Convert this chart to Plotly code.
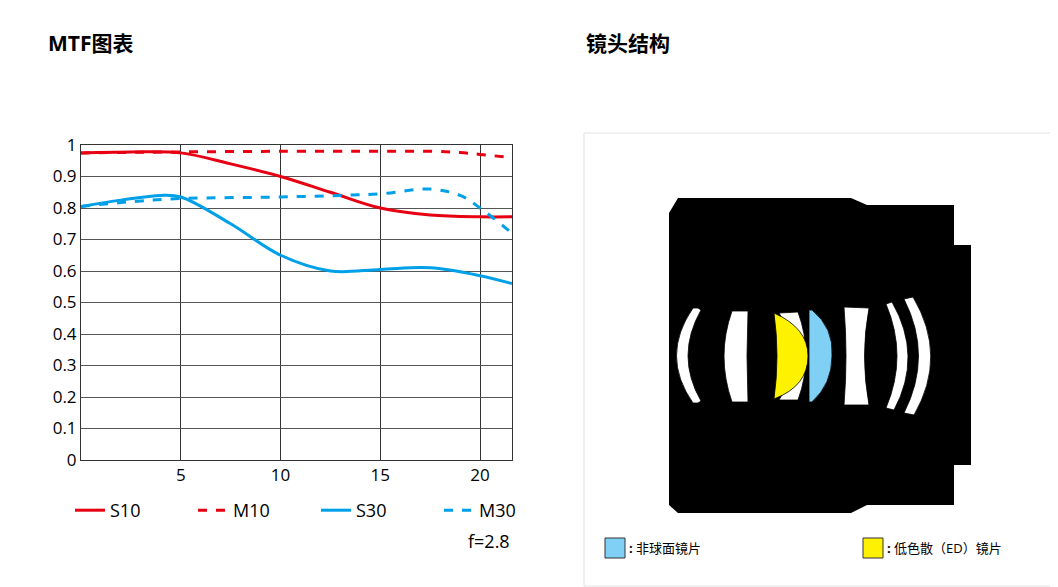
import plotly.graph_objects as go

# MTF data (spatial position mm vs contrast)
x_s10 = [0, 2.5, 5, 7.5, 10, 12.5, 15, 17.5, 20, 21.6]
y_s10 = [0.975, 0.978, 0.975, 0.94, 0.90, 0.85, 0.80, 0.778, 0.772, 0.772]
x_m10 = [0, 5, 10, 15, 17.5, 19, 20, 21.6]
y_m10 = [0.975, 0.978, 0.98, 0.98, 0.98, 0.976, 0.97, 0.96]
x_s30 = [0, 2, 4, 5, 7.5, 10, 12.5, 15, 17.5, 20, 21.6]
y_s30 = [0.805, 0.825, 0.84, 0.835, 0.75, 0.65, 0.60, 0.605, 0.61, 0.585, 0.56]
x_m30 = [0, 2.5, 5, 10, 13, 15, 17.5, 19, 20, 21.6]
y_m30 = [0.805, 0.82, 0.83, 0.835, 0.84, 0.845, 0.86, 0.84, 0.80, 0.72]

RED = "#e60012"
BLUE = "#00a0e9"

fig = go.Figure()
fig.add_trace(go.Scatter(x=x_s10, y=y_s10, name="S10", mode="lines", line=dict(color=RED, width=3, shape="spline")))
fig.add_trace(go.Scatter(x=x_m10, y=y_m10, name="M10", mode="lines", line=dict(color=RED, width=3, dash="dash", shape="spline")))
fig.add_trace(go.Scatter(x=x_s30, y=y_s30, name="S30", mode="lines", line=dict(color=BLUE, width=3, shape="spline")))
fig.add_trace(go.Scatter(x=x_m30, y=y_m30, name="M30", mode="lines", line=dict(color=BLUE, width=3, dash="dash", shape="spline")))

W, H = 1058, 587
X2 = 560  # left edge of the lens-diagram area (px)
fig.update_layout(
    width=W, height=H, margin=dict(l=0, r=0, t=0, b=0, autoexpand=False),
    paper_bgcolor="white", plot_bgcolor="white",
    font=dict(family="Open Sans, Noto Sans CJK SC", size=17, color="black"),
    xaxis=dict(domain=[73/W, 504/W], range=[0, 21.6], tickvals=[5, 10, 15, 20],
               showgrid=True, gridcolor="#333", gridwidth=1, zeroline=False,
               showline=True, linecolor="#333", mirror=True, ticks=""),
    yaxis=dict(domain=[(H-452)/H, (H-137)/H], range=[0, 1],
               tickvals=[0, .1, .2, .3, .4, .5, .6, .7, .8, .9, 1],
               ticktext=["0", "0.1", "0.2", "0.3", "0.4", "0.5", "0.6", "0.7", "0.8", "0.9", "1"],
               showgrid=True, gridcolor="#555", gridwidth=1, zeroline=False,
               showline=True, linecolor="#333", mirror=True, ticks=""),
    xaxis2=dict(domain=[X2/W, 1], range=[X2, W], visible=False, anchor="y2"),
    yaxis2=dict(domain=[0, 1], range=[H, 0], visible=False, anchor="x2"),
    legend=dict(orientation="h", x=62/W, y=(H-484)/H, xanchor="left", yanchor="top",
                entrywidth=78, entrywidthmode="pixels", font=dict(size=18)),
    showlegend=True,
)
# invisible trace to activate second axes
fig.add_trace(go.Scatter(x=[X2], y=[0], xaxis="x2", yaxis="y2", mode="markers",
                         marker=dict(opacity=0), showlegend=False, hoverinfo="skip"))

fig.add_annotation(text="<b>MTF图表</b>", x=38/W, y=1-35/H, xref="paper", yref="paper",
                   xanchor="left", yanchor="middle", showarrow=False, font=dict(size=21))
fig.add_annotation(text="<b>镜头结构</b>", x=576/W, y=1-35/H, xref="paper", yref="paper",
                   xanchor="left", yanchor="middle", showarrow=False, font=dict(size=21))
fig.add_annotation(text="f=2.8", x=504/W, y=1-533/H, xref="paper", yref="paper",
                   xanchor="right", yanchor="middle", showarrow=False, font=dict(size=18))

shapes = []
def path(d, fill, line="black", w=0.8):
    shapes.append(dict(type="path", path=d, xref="x2", yref="y2", fillcolor=fill,
                       line=dict(color=line, width=w), layer="above"))

# frame
shapes.append(dict(type="rect", x0=576, y0=125, x1=1050, y1=578, xref="x2", yref="y2",
                   line=dict(color="#e3e3e3", width=1), layer="below"))
# lens body
path("M 670 190 L 843 190 L 859 197 L 946 197 L 946 237 L 963 237 L 963 457 L 946 457 "
     "L 946 497 L 859 497 L 843 505 L 670 505 L 661 497 L 661 205 Z", "black", "black", 0)
# elements
path("M 690 300 L 693 302 Q 667 348 693 393 L 690 395 L 685 395 Q 652 348 685 300 Z", "white")
path("M 724 303 L 740 303 L 739 348 L 740 394 L 724 394 Q 708 348 724 303 Z", "white")
path("M 771 305 L 790 304 Q 806 348 790 392 L 771 392 Q 800 348 771 305 Z", "white")
path("M 766 305 Q 800 320 800 348 Q 800 378 766 391 Q 772 348 766 305 Z", "#fff200")
path("M 801 302 L 804 302 Q 826 320 824 348 Q 824 376 804 394 L 801 394 Z", "#7fd0f4")
path("M 836 299 L 861 300 Q 852 348 861 397 L 836 397 Q 840 348 836 299 Z", "white")
path("M 878 296 L 884 294 Q 915 348 886 402 L 878 400 Q 900 348 878 296 Z", "white")
path("M 896 291 L 905 289 Q 940 348 906 407 L 896 405 Q 925 348 896 291 Z", "white")
# legend swatches
shapes.append(dict(type="rect", x0=597, y0=530, x1=617, y1=550, xref="x2", yref="y2",
                   fillcolor="#7fd0f4", line=dict(color="#333", width=1)))
shapes.append(dict(type="rect", x0=855, y0=530, x1=875, y1=550, xref="x2", yref="y2",
                   fillcolor="#fff200", line=dict(color="#333", width=1)))
fig.update_layout(shapes=shapes)

fig.add_annotation(text="<b>:</b> 非球面镜片", x=619/W, y=1-540/H, xref="paper", yref="paper",
                   xanchor="left", yanchor="middle", showarrow=False, font=dict(size=13))
fig.add_annotation(text="<b>:</b> 低色散（ED）镜片", x=877/W, y=1-540/H, xref="paper", yref="paper",
                   xanchor="left", yanchor="middle", showarrow=False, font=dict(size=13))

fig.write_html("out.html")
